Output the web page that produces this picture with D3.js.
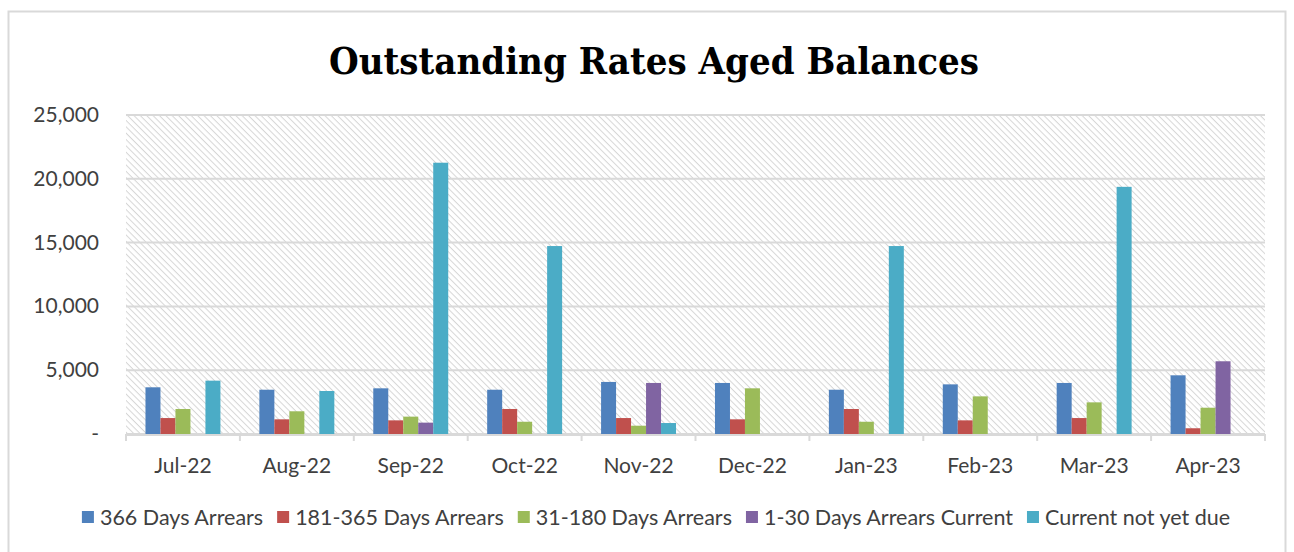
<!DOCTYPE html>
<html>
<head>
<meta charset="utf-8">
<script src="https://cdn.jsdelivr.net/npm/d3@7"></script>
<style>
  body { margin: 0; background: #fff; }
  text { font-family: Lato, "Open Sans", sans-serif; fill: #404040; }
</style>
</head>
<body>
<svg id="chart" width="1294" height="552"></svg>
<script>
var months = ['Jul-22', 'Aug-22', 'Sep-22', 'Oct-22', 'Nov-22', 'Dec-22', 'Jan-23', 'Feb-23', 'Mar-23', 'Apr-23'];
var seriesNames = ['366 Days Arrears', '181-365 Days Arrears', '31-180 Days Arrears', '1-30 Days Arrears Current', 'Current not yet due'];
var seriesColors = ['#4f81bd', '#c0504d', '#9bbb59', '#8064a2', '#4bacc6'];

var days366 = [3660, 3470, 3580, 3470, 4080, 4000, 3470, 3890, 4000, 4600];
var days181 = [1250, 1150, 1070, 1960, 1250, 1150, 1960, 1070, 1250, 450];
var days31 = [1960, 1780, 1360, 960, 650, 3580, 960, 2950, 2480, 2060];
var days1to30 = [0, 0, 890, 0, 4000, 0, 0, 0, 0, 5700];
var notYetDue = [4180, 3370, 21260, 14730, 860, 0, 14730, 0, 19370, 0];

var yTicks = [0, 5000, 10000, 15000, 20000, 25000];

var allSeries = [days366, days181, days31, days1to30, notYetDue];

var svg = d3.select('#chart');

// outer chart border
svg.append('rect')
   .attr('x', 8.5).attr('y', 11.5)
   .attr('width', 1277).attr('height', 560)
   .attr('fill', '#fff')
   .attr('stroke', '#d9d9d9')
   .attr('stroke-width', 2);

var plotLeft = 126, plotRight = 1265, plotTop = 115, plotBottom = 434;

// hatched plot background
var defs = svg.append('defs');
var pat = defs.append('pattern')
   .attr('id', 'hatch')
   .attr('patternUnits', 'userSpaceOnUse')
   .attr('width', 4.5).attr('height', 4.5)
   .attr('patternTransform', 'rotate(45)');
pat.append('rect').attr('width', 4.5).attr('height', 4.5).attr('fill', '#fff');
pat.append('line')
   .attr('x1', 0).attr('y1', 0).attr('x2', 4.5).attr('y2', 0)
   .attr('stroke', '#d6d6d6').attr('stroke-width', 2);

svg.append('rect')
   .attr('x', plotLeft).attr('y', plotTop)
   .attr('width', plotRight - plotLeft).attr('height', plotBottom - plotTop)
   .attr('fill', 'url(#hatch)');

var x0 = d3.scaleBand()
   .domain(months)
   .range([plotLeft, plotRight])
   .paddingInner(0.342)
   .paddingOuter(0.171);

var x1 = d3.scaleBand()
   .domain(d3.range(seriesNames.length))
   .range([0, x0.bandwidth()]);

var y = d3.scaleLinear()
   .domain([0, 25000])
   .range([plotBottom, plotTop]);

// gridlines
svg.append('g')
   .selectAll('line')
   .data(yTicks)
   .join('line')
   .attr('x1', plotLeft).attr('x2', plotRight)
   .attr('y1', d => y(d)).attr('y2', d => y(d))
   .attr('stroke', '#d9d9d9')
   .attr('stroke-width', 2);

// y axis labels
var fmt = d3.format(',');
svg.append('g')
   .selectAll('text')
   .data(yTicks)
   .join('text')
   .attr('x', 99)
   .attr('y', d => y(d) + 7)
   .attr('text-anchor', 'end')
   .style('font-size', '21px')
   .text(d => d == 0 ? '-' : fmt(d));

// bars
var groups = svg.append('g')
   .selectAll('g')
   .data(months)
   .join('g')
   .attr('transform', m => 'translate(' + x0(m) + ',0)');

groups.selectAll('rect')
   .data((m, i) => allSeries.map((s, k) => ({ k: k, v: s[i] })))
   .join('rect')
   .attr('x', d => x1(d.k))
   .attr('width', x1.bandwidth())
   .attr('y', d => y(d.v))
   .attr('height', d => plotBottom - y(d.v))
   .attr('fill', d => seriesColors[d.k]);

// x axis line and ticks
var xAxis = svg.append('g');
xAxis.append('line')
   .attr('x1', plotLeft).attr('x2', plotRight)
   .attr('y1', plotBottom + 1).attr('y2', plotBottom + 1)
   .attr('stroke', '#d9d9d9').attr('stroke-width', 2);
var bounds = months.map(m => x0(m) - x0.step() * x0.paddingInner() / 2).concat([plotRight]);
xAxis.selectAll('.tick')
   .data(bounds)
   .join('line')
   .attr('class', 'tick')
   .attr('x1', d => d).attr('x2', d => d)
   .attr('y1', plotBottom).attr('y2', plotBottom + 7)
   .attr('stroke', '#d9d9d9').attr('stroke-width', 2);

xAxis.selectAll('text')
   .data(months)
   .join('text')
   .attr('x', m => x0(m) + x0.bandwidth() / 2)
   .attr('y', 473)
   .attr('text-anchor', 'middle')
   .style('font-size', '21px')
   .text(m => m);

// title
svg.append('text')
   .attr('x', 654)
   .attr('y', 74)
   .attr('text-anchor', 'middle')
   .attr('textLength', 650)
   .attr('lengthAdjust', 'spacingAndGlyphs')
   .style('font-family', '"DejaVu Serif", "Liberation Serif", serif')
   .style('font-weight', 'bold')
   .style('font-size', '37px')
   .style('fill', '#000')
   .text('Outstanding Rates Aged Balances');

// legend, laid out from text widths and centred
var legend = svg.append('g');
var lx = 0;
seriesNames.forEach(function(name, k) {
   legend.append('rect')
      .attr('x', lx).attr('y', 511)
      .attr('width', 12).attr('height', 12)
      .attr('fill', seriesColors[k]);
   var t = legend.append('text')
      .attr('x', lx + 18)
      .attr('y', 525)
      .style('font-size', '21.5px')
      .text(name);
   lx += 18 + t.node().getComputedTextLength() + 14;
});
legend.attr('transform', 'translate(' + (656 - (lx - 14) / 2) + ',0)');
</script>
</body>
</html>
